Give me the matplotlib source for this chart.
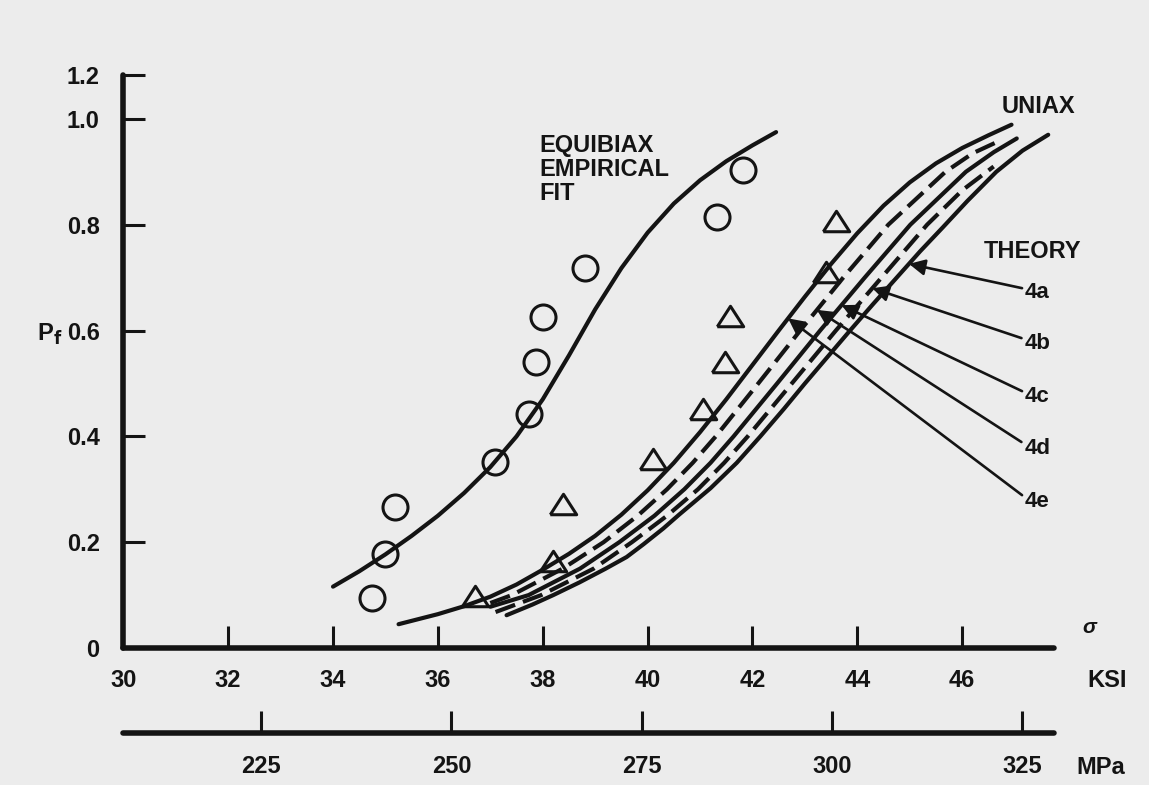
import numpy as np
import matplotlib.pyplot as plt

plt.rcParams['font.family'] = ['Liberation Sans', 'DejaVu Sans']
plt.rcParams['font.weight'] = 'bold'

ink = '#141414'
paper = '#ececec'

# ── measured points (sigma in KSI, probability of failure) ──
equi_x = [34.74, 34.99, 35.18, 37.09, 37.74, 37.87, 38.00, 38.80, 41.32, 41.81]
equi_pf = [0.094, 0.178, 0.267, 0.351, 0.442, 0.541, 0.626, 0.718, 0.815, 0.904]

uni_x = [36.71, 38.20, 38.39, 40.11, 41.06, 41.47, 41.58, 43.41, 43.59]
uni_pf = [0.097, 0.163, 0.270, 0.355, 0.450, 0.538, 0.626, 0.708, 0.806]

# ── equibiaxial empirical fit ──
fit_x = [34.0, 34.5, 35.0, 35.5, 36.0, 36.5, 37.0, 37.5, 38.0, 38.5, 39.0,
         39.5, 40.0, 40.5, 41.0, 41.5, 42.0, 42.45]
fit_pf = [0.116, 0.145, 0.177, 0.212, 0.250, 0.293, 0.342, 0.400, 0.470, 0.553,
          0.640, 0.718, 0.785, 0.840, 0.884, 0.920, 0.950, 0.975]

# ── uniaxial theory curves 4a-4e ──
t4e_x = [35.25, 36.0, 36.5, 37.0, 37.5, 38.0, 38.5, 39.0, 39.5, 40.0, 40.5, 41.0,
         41.5, 42.0, 42.5, 43.0, 43.5, 44.0, 44.5, 45.0, 45.5, 46.0, 46.5, 46.94]
t4e_pf = [0.045, 0.064, 0.079, 0.097, 0.12, 0.148, 0.178, 0.212, 0.252, 0.298,
          0.35, 0.408, 0.47, 0.535, 0.6, 0.664, 0.726, 0.784, 0.836, 0.88,
          0.916, 0.945, 0.969, 0.989]

t4d_x = [37.0, 37.41, 38.38, 39.16, 39.81, 40.37, 40.86, 41.3, 42.11, 42.91,
         43.73, 44.59, 45.68, 46.2, 46.7]
t4d_pf = [0.085, 0.1, 0.15, 0.2, 0.25, 0.3, 0.35, 0.4, 0.5, 0.6, 0.7, 0.8, 0.9,
          0.935, 0.958]

t4c_x = [37.0, 37.73, 38.71, 39.46, 40.13, 40.7, 41.2, 41.64, 42.47, 43.29,
         44.14, 45.01, 46.07, 46.6, 47.04]
t4c_pf = [0.078, 0.1, 0.15, 0.2, 0.25, 0.3, 0.35, 0.4, 0.5, 0.6, 0.7, 0.8, 0.9,
          0.937, 0.963]

t4b_x = [37.1, 37.97, 38.97, 39.7, 40.37, 40.96, 41.46, 41.91, 42.75, 43.59,
         44.46, 45.33, 46.0, 46.6]
t4b_pf = [0.068, 0.1, 0.15, 0.2, 0.25, 0.3, 0.35, 0.4, 0.5, 0.6, 0.7, 0.8,
          0.865, 0.91]

t4a_x = [37.31, 37.8, 38.2, 38.7, 39.2, 39.6, 39.92, 40.3, 40.6, 41.2, 41.7,
         42.15, 42.6, 43.0, 43.43, 43.86, 44.3, 44.75, 45.2, 45.63, 46.1, 46.65,
         47.15, 47.64]
t4a_pf = [0.062, 0.082, 0.1, 0.124, 0.15, 0.172, 0.196, 0.226, 0.252, 0.302,
          0.35, 0.4, 0.452, 0.5, 0.55, 0.6, 0.65, 0.7, 0.75, 0.795, 0.845, 0.9,
          0.94, 0.97]

ksi_ticks = [30, 32, 34, 36, 38, 40, 42, 44, 46]
mpa_ticks = [225, 250, 275, 300, 325]
pf_ticks = [0, 0.2, 0.4, 0.6, 0.8, 1.0]
pf_labels = ['0', '0.2', '0.4', '0.6', '0.8', '1.0', '1.2']

# ── figure ──
fig = plt.figure(figsize=(11.49, 7.85), dpi=100, facecolor=paper)
ax = fig.add_axes([0.1073, 0.1745, 0.81, 0.73], facecolor=paper)
ax.set_xlim(30, 47.75)
ax.set_ylim(0, 1.083)

for s in ['top', 'right']:
    ax.spines[s].set_visible(False)
for s in ['left', 'bottom']:
    ax.spines[s].set_linewidth(4)
    ax.spines[s].set_color(ink)
    ax.spines[s].set_capstyle('round')

ax.set_xticks(ksi_ticks)
ax.set_xticklabels([str(t) for t in ksi_ticks])
ax.set_yticks(pf_ticks + [ax.get_ylim()[1]])
ax.set_yticklabels(pf_labels)
ax.tick_params(direction='in', length=16, width=2.2, colors=ink, labelsize=17)
ax.tick_params(axis='x', pad=15)
ax.tick_params(axis='y', pad=17)

# MPa scale under the KSI axis
sec = ax.secondary_xaxis(-0.148, functions=(lambda k: k * 6.894757,
                                            lambda m: m / 6.894757))
sec.set_xticks(mpa_ticks)
sec.set_xticklabels([str(t) for t in mpa_ticks])
sec.tick_params(direction='in', length=16, width=2.2, colors=ink,
                labelsize=17, pad=16)
sec.spines['bottom'].set_linewidth(4)
sec.spines['bottom'].set_color(ink)
sec.spines['bottom'].set_capstyle('round')

# ── curves ──
lw = 3
ax.plot(fit_x, fit_pf, color=ink, lw=lw, solid_capstyle='round')
ax.plot(t4e_x, t4e_pf, color=ink, lw=lw, solid_capstyle='round')
ax.plot(t4d_x, t4d_pf, color=ink, lw=lw, dashes=(5, 2))
ax.plot(t4c_x, t4c_pf, color=ink, lw=lw, solid_capstyle='round')
ax.plot(t4b_x, t4b_pf, color=ink, lw=lw, dashes=(5, 2))
ax.plot(t4a_x, t4a_pf, color=ink, lw=lw, solid_capstyle='round')

tri = [(-1.0, -0.7), (1.0, -0.7), (0.0, 0.85), (-1.0, -0.7)]
ax.plot(equi_x, equi_pf, 'o', ms=18, mfc='none', mec=ink, mew=2.2)
ax.plot(uni_x, uni_pf, marker=tri, ls='none', ms=19, mfc='none', mec=ink, mew=2.2)

# ── labels ──
ax.text(37.94, 0.904, 'EQUIBIAX\nEMPIRICAL\nFIT', ha='left', va='center',
        fontsize=17, color=ink, linespacing=1.05)
ax.text(47.45, 1.023, 'UNIAX', ha='center', va='center', fontsize=17,
        color=ink, clip_on=False)
ax.text(47.35, 0.749, 'THEORY', ha='center', va='center', fontsize=17,
        color=ink, clip_on=False)

arrow_curves = [(t4a_x, t4a_pf), (t4b_x, t4b_pf), (t4c_x, t4c_pf),
                (t4d_x, t4d_pf), (t4e_x, t4e_pf)]
arrow_names = ['4a', '4b', '4c', '4d', '4e']
tip_pf = [0.726, 0.68, 0.648, 0.639, 0.623]
label_pf = [0.671, 0.576, 0.475, 0.378, 0.277]
for (cx, cy), name, tp, lp in zip(arrow_curves, arrow_names, tip_pf, label_pf):
    tx = np.interp(tp, cy, cx)
    ax.annotate(name, xy=(tx, tp), xytext=(47.43, lp), ha='center', va='center',
                fontsize=16, color=ink, annotation_clip=False,
                arrowprops=dict(arrowstyle='-|>', lw=1.9, color=ink,
                                mutation_scale=24, shrinkA=0, shrinkB=0,
                                relpos=(0.0, 0.7)))

ax.text(48.42, 0.038, 'σ', style='italic', fontsize=15, color=ink,
        ha='center', va='center', clip_on=False)
ax.text(48.76, -0.0605, 'KSI', fontsize=17, color=ink, ha='center', va='center',
        clip_on=False)
ax.text(48.65, -0.225, 'MPa', fontsize=17, color=ink, ha='center', va='center',
        clip_on=False)
ax.text(28.6, 0.592, r'P$_\mathbf{f}$', fontsize=17, color=ink, ha='center',
        va='center', clip_on=False)

fig.savefig('out.png', dpi=100, facecolor=paper)
